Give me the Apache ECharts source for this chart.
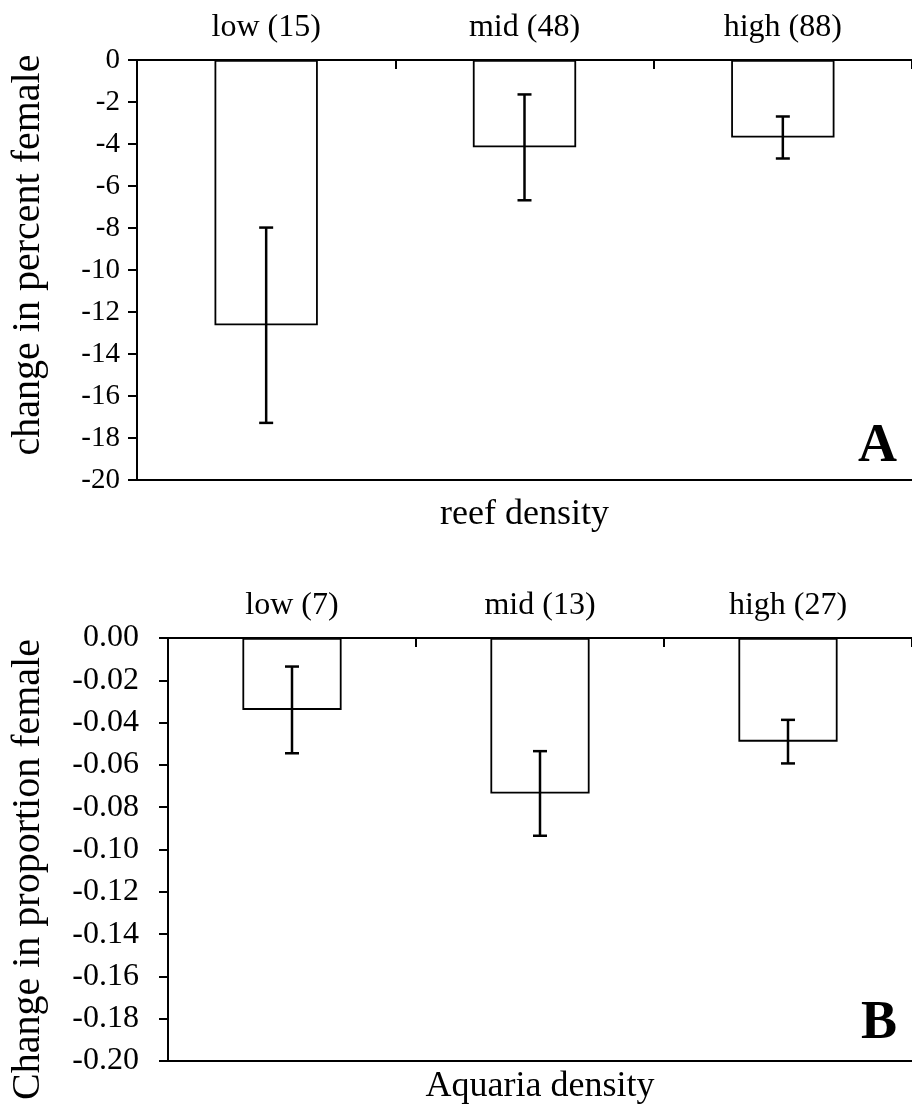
<!DOCTYPE html>
<html>
<head>
<meta charset="utf-8">
<script src="https://cdn.jsdelivr.net/npm/echarts@6/dist/echarts.min.js"></script>
<style>
  html, body { margin: 0; padding: 0; background: #fff; }
  #chart { width: 912px; height: 1110px; }
</style>
</head>
<body>
<div id="chart"></div>
<script>
// Panel A: field survey, change in percent female by reef density (n in parentheses)
const categoriesA = ['low (15)', 'mid (48)', 'high (88)'];
const meanA = [-12.63, -4.16, -3.69];
const errA = [4.65, 2.52, 1.0];
const ticksA = { min: -20, max: 0, interval: 2 };

// Panel B: aquaria experiment, change in proportion female by density
const categoriesB = ['low (7)', 'mid (13)', 'high (27)'];
const meanB = [-0.034, -0.0735, -0.049];
const errB = [0.0205, 0.02, 0.0103];
const ticksB = { min: -0.2, max: 0, interval: 0.02 };

const FONT = "'Liberation Serif', 'Times New Roman', serif";
const BLACK = '#000';

function errorData(means, errs) {
  return means.map((m, i) => [i, m - errs[i], m + errs[i]]);
}

function renderErrorBar(params, api) {
  const i = api.value(0);
  const lo = api.coord([i, api.value(1)]);
  const hi = api.coord([i, api.value(2)]);
  const cap = 7;
  const style = { stroke: BLACK, lineWidth: 2.5, fill: null };
  return {
    type: 'group',
    children: [
      { type: 'line', shape: { x1: lo[0], y1: lo[1], x2: hi[0], y2: hi[1] }, style },
      { type: 'line', shape: { x1: lo[0] - cap, y1: lo[1], x2: lo[0] + cap, y2: lo[1] }, style },
      { type: 'line', shape: { x1: hi[0] - cap, y1: hi[1], x2: hi[0] + cap, y2: hi[1] }, style }
    ]
  };
}

function topAxis(gridIndex, cats) {
  return {
    type: 'category', gridIndex, position: 'top', data: cats,
    axisLine: { onZero: false, lineStyle: { color: BLACK, width: 2 } },
    axisTick: { show: true, inside: true, length: 9, interval: 0, lineStyle: { color: BLACK, width: 2 } },
    axisLabel: { color: BLACK, fontFamily: FONT, fontSize: 32, margin: 16, interval: 0 },
    splitLine: { show: false }
  };
}

function bottomAxis(gridIndex, cats, name, gap) {
  return {
    type: 'category', gridIndex, position: 'bottom', data: cats,
    axisLine: { onZero: false, lineStyle: { color: BLACK, width: 2 } },
    axisTick: { show: false }, axisLabel: { show: false }, splitLine: { show: false },
    name, nameLocation: 'middle', nameGap: gap,
    nameTextStyle: { color: BLACK, fontFamily: FONT, fontSize: 36 }
  };
}

function valueAxis(gridIndex, t, name, gap, fontSize, labelMargin, formatter, pad) {
  return {
    type: 'value', gridIndex, min: t.min, max: t.max, interval: t.interval,
    axisLine: { show: true, lineStyle: { color: BLACK, width: 2 } },
    axisTick: { show: true, inside: false, length: 9, lineStyle: { color: BLACK, width: 2 } },
    axisLabel: { color: BLACK, fontFamily: FONT, fontSize, margin: labelMargin, formatter },
    splitLine: { show: false },
    name, nameLocation: 'middle', nameGap: gap,
    nameTextStyle: { color: BLACK, fontFamily: FONT, fontSize: 40, padding: pad }
  };
}

const barStyle = { color: '#fff', borderColor: BLACK, borderWidth: 1.8 };

const chart = echarts.init(document.getElementById('chart'), null, { renderer: 'canvas' });
chart.setOption({
  backgroundColor: '#fff',
  animation: false,
  grid: [
    { left: 137, top: 60, width: 780, height: 420 },
    { left: 167, top: 638, width: 757.5, height: 423 }
  ],
  xAxis: [
    topAxis(0, categoriesA),
    bottomAxis(0, categoriesA, 'reef density', 17),
    topAxis(1, categoriesB),
    bottomAxis(1, categoriesB, 'Aquaria density', 8)
  ],
  yAxis: [
    valueAxis(0, ticksA, 'change in percent female', 89, 29, 17, v => String(v), [0, 0, 0, 30]),
    valueAxis(1, ticksB, 'Change in proportion female', 120, 32, 29, v => v.toFixed(2), [0, 40, 0, 0])
  ],
  graphic: [
    { type: 'text', left: 858, top: 420, style: { text: 'A', fontFamily: FONT, fontSize: 54, fontWeight: 'bold', fill: BLACK } },
    { type: 'text', left: 861, top: 997, style: { text: 'B', fontFamily: FONT, fontSize: 54, fontWeight: 'bold', fill: BLACK } }
  ],
  series: [
    { type: 'bar', xAxisIndex: 0, yAxisIndex: 0, data: meanA, barWidth: '40%', itemStyle: barStyle },
    { type: 'custom', xAxisIndex: 0, yAxisIndex: 0, data: errorData(meanA, errA), renderItem: renderErrorBar, z: 5 },
    { type: 'bar', xAxisIndex: 2, yAxisIndex: 1, data: meanB, barWidth: '40%', itemStyle: barStyle },
    { type: 'custom', xAxisIndex: 2, yAxisIndex: 1, data: errorData(meanB, errB), renderItem: renderErrorBar, z: 5 }
  ]
});
</script>
</body>
</html>
